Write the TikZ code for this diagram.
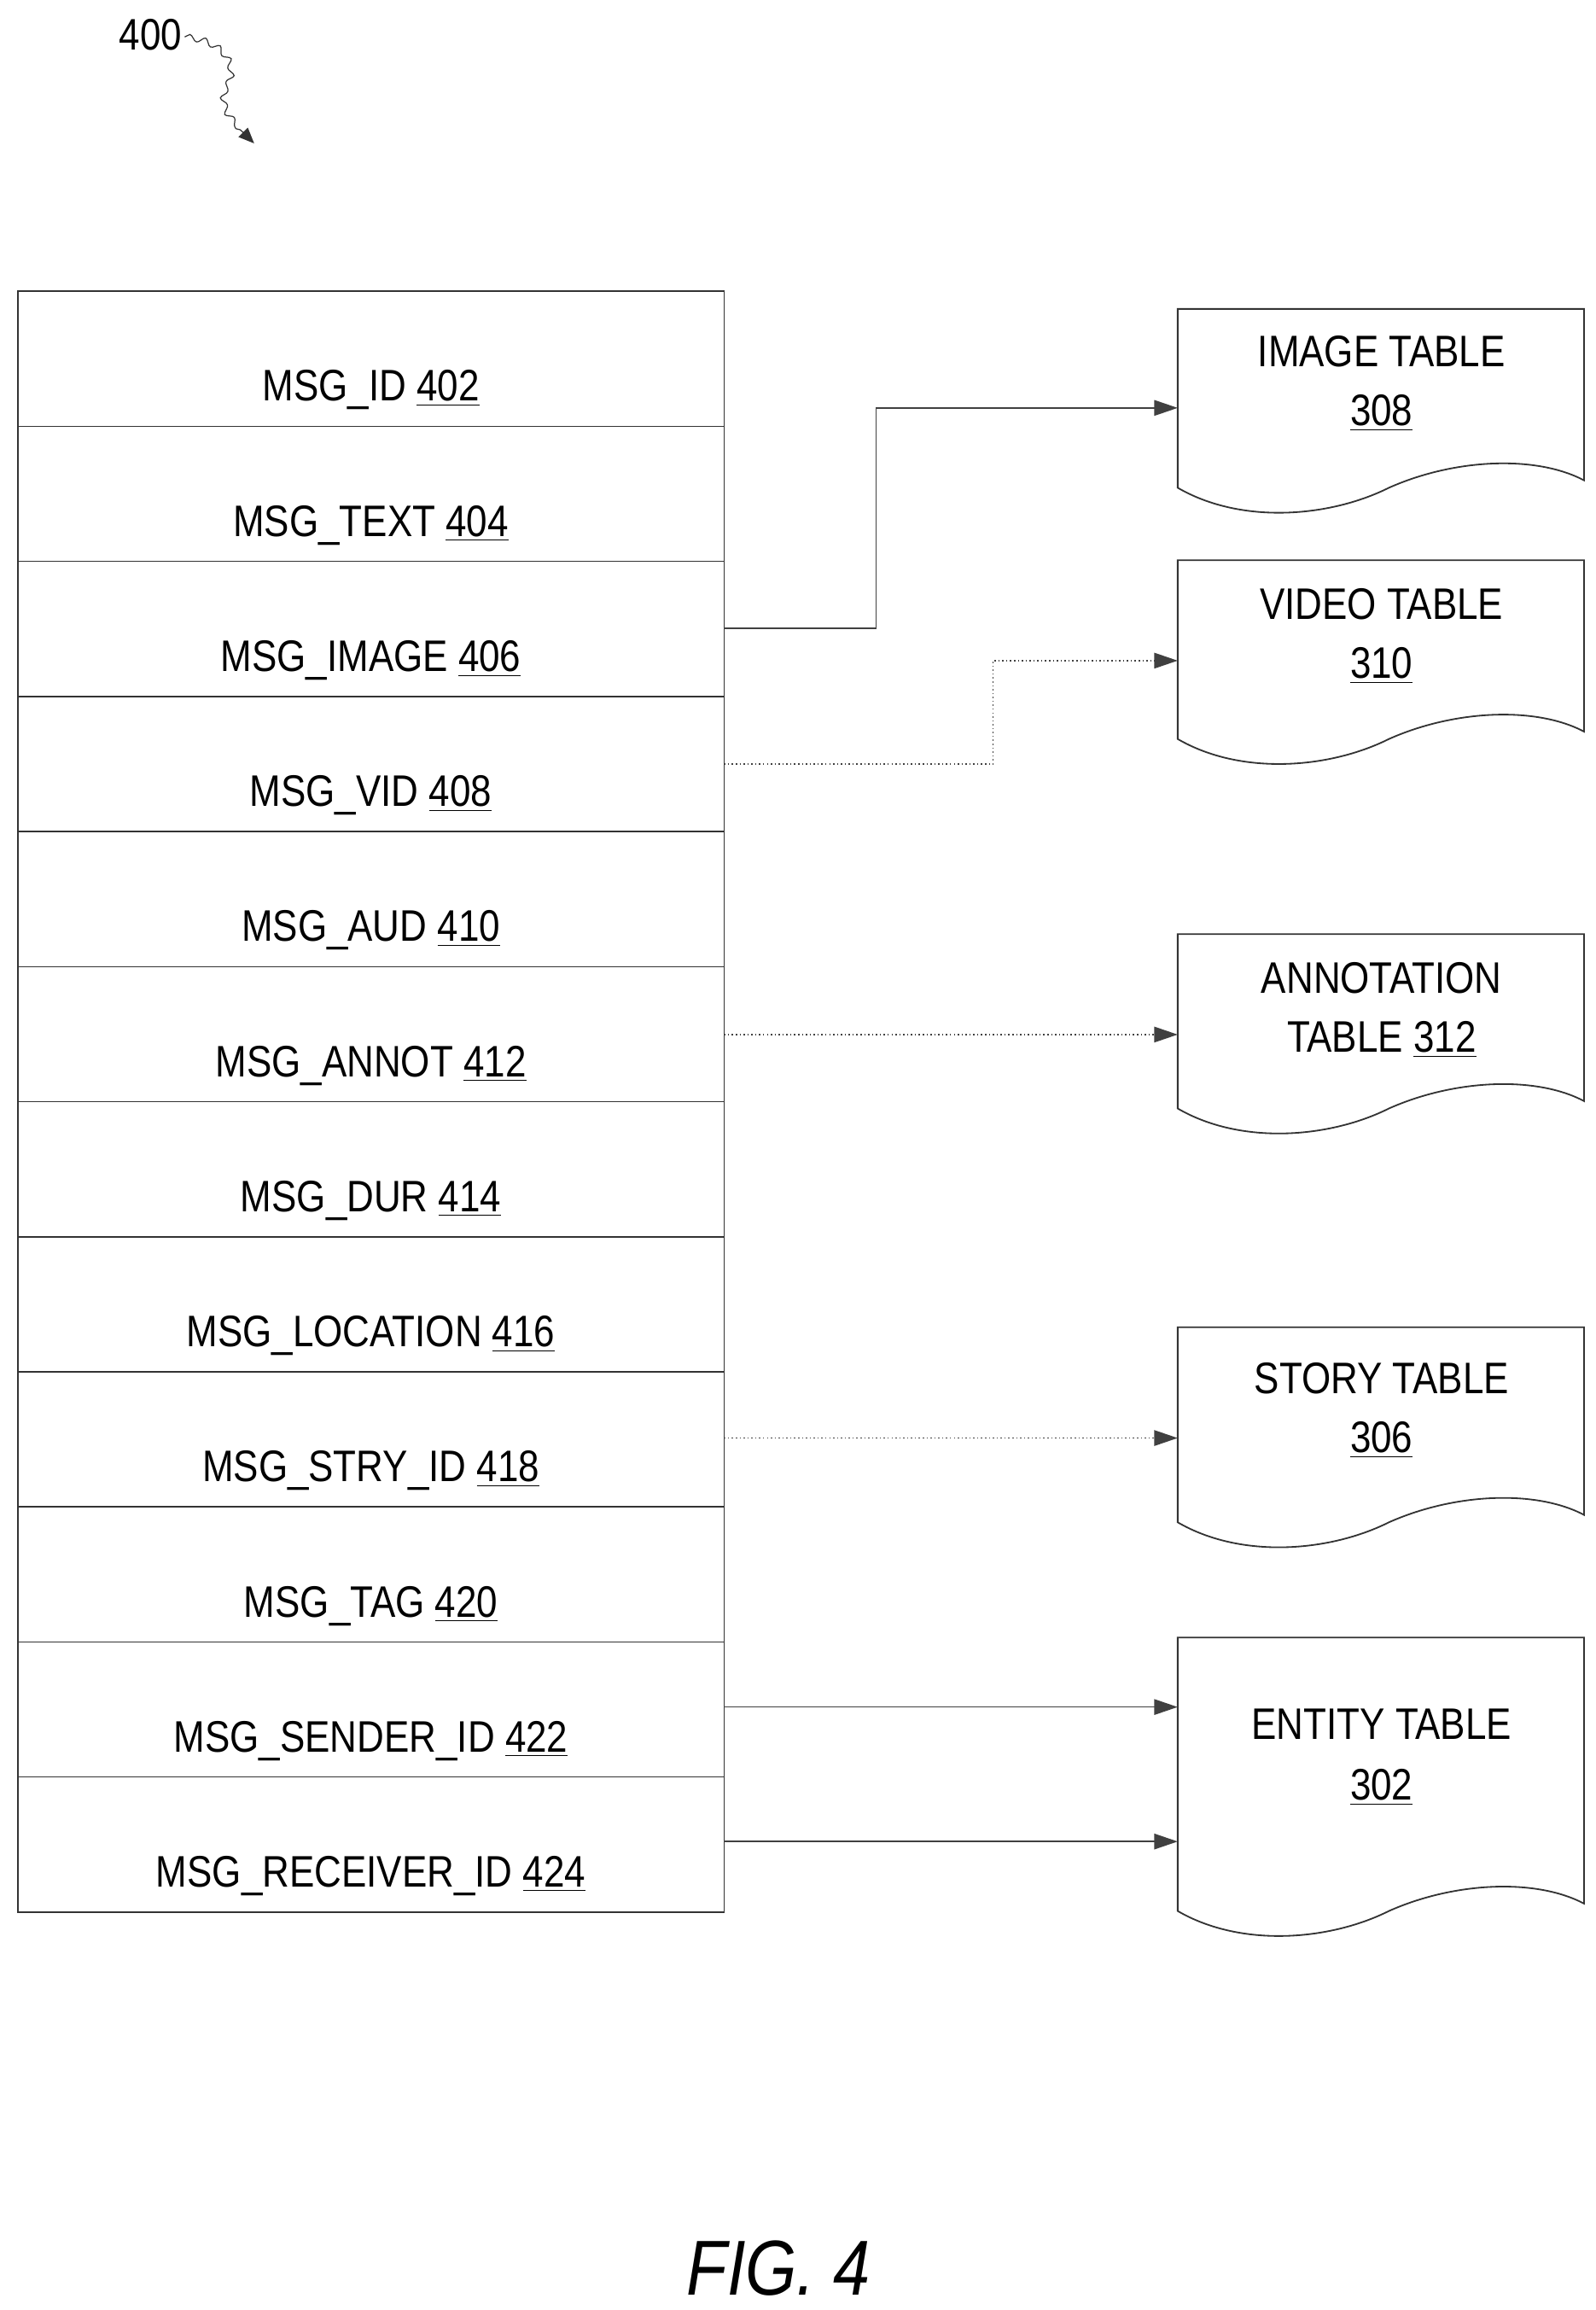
\documentclass[tikz,border=0pt]{standalone}
\usepackage{fontspec}
\setmainfont[FakeStretch=0.85]{Liberation Sans}
\usetikzlibrary{arrows.meta,decorations.pathmorphing}
\begin{document}
\begin{tikzpicture}[x=0.02cm,y=-0.02cm,
  lbl/.style={font=\fontsize{17}{20}\selectfont,inner sep=0pt,anchor=base},
  row/.style={draw=black!80,line width=0.5pt},
  conn/.style={draw=black!75,line width=0.5pt,-{Triangle[length=9pt,width=6pt]}},
  doc/.style={draw=black!80,line width=0.6pt}]
\useasboundingbox (0,0) rectangle (1080,1563);
\node[lbl] (n400) at (102,34) {400};
\coordinate (a400) at (172,97);
\draw[decorate,decoration={snake,amplitude=1.2pt,segment length=6pt},black!80] (125,25) .. controls (150,28) and (160,45) .. (150,60) .. controls (145,75) and (160,85) .. (165,90);
\draw[-{Triangle[length=6pt,width=5pt]},black!80] (165,90) -- (a400);
% table
\foreach \t/\lab [count=\i] in {MSG\_ID/402,MSG\_TEXT/404,MSG\_IMAGE/406,MSG\_VID/408,MSG\_AUD/410,MSG\_ANNOT/412,MSG\_DUR/414,MSG\_LOCATION/416,MSG\_STRY\_ID/418,MSG\_TAG/420,MSG\_SENDER\_ID/422,MSG\_RECEIVER\_ID/424}{
  \pgfmathsetmacro\ytop{197+(\i-1)*91.4}
  \pgfmathsetmacro\ybot{197+\i*91.4}
  \draw[row] (12,\ytop) rectangle (490,\ybot);
  \node[lbl] (r\i) at (251,\ybot-17) {\t\ \underline{\lab}};
}
\foreach \i in {1,...,12}{\pgfmathsetmacro\yc{197+(\i-0.5)*91.4}\coordinate (e\i) at (490,\yc+20);}
% documents
\newcommand\docshape[3]{% name, top, bottom
  \draw[doc] (797,#2) -- (797,#3) .. controls (840,#3+25) and (900,#3+20) .. (940,#3) .. controls (985,#3-20) and (1040,#3-22) .. (1072,#3-5) -- (1072,#2) -- cycle;
  \coordinate (#1) at (797,#2);}
\docshape{d1}{209}{330}
\docshape{d2}{379}{500}
\docshape{d3}{632}{750}
\docshape{d4}{898}{1030}
\docshape{d5}{1108}{1293}
\node[lbl] (t1) at (935,248) {IMAGE TABLE};
\node[lbl] at (935,288) {\underline{308}};
\node[lbl] (t2) at (935,419) {VIDEO TABLE};
\node[lbl] at (935,459) {\underline{310}};
\node[lbl] (t3) at (935,672) {ANNOTATION};
\node[lbl] at (935,712) {TABLE \underline{312}};
\node[lbl] (t4) at (935,943) {STORY TABLE};
\node[lbl] at (935,983) {\underline{306}};
\node[lbl] (t5) at (935,1177) {ENTITY TABLE};
\node[lbl] at (935,1218) {\underline{302}};
\coordinate (p1) at (797,276);
\coordinate (p2) at (797,447);
\coordinate (p3) at (797,700);
\coordinate (p4) at (797,973);
\coordinate (p5) at (797,1155);
\coordinate (p6) at (797,1246);
\coordinate (s3) at (490,425);
\coordinate (s4) at (490,517);
\coordinate (s6) at (490,700);
\coordinate (s9) at (490,973);
\coordinate (s11) at (490,1155);
\coordinate (s12) at (490,1246);
\draw[conn] (s3) -- (593,425) -- (593,276) -- (p1);
\draw[conn,densely dotted] (s4) -- (672,517) -- (672,447) -- (p2);
\draw[conn,densely dotted] (s6) -- (p3);
\draw[conn,densely dotted] (s9) -- (p4);
\draw[conn] (s11) -- (p5);
\draw[conn] (s12) -- (p6);
\node[lbl,font=\fontsize{30}{34}\itshape\selectfont] (fig) at (527,1553) {FIG. 4};
\end{tikzpicture}
\end{document}
